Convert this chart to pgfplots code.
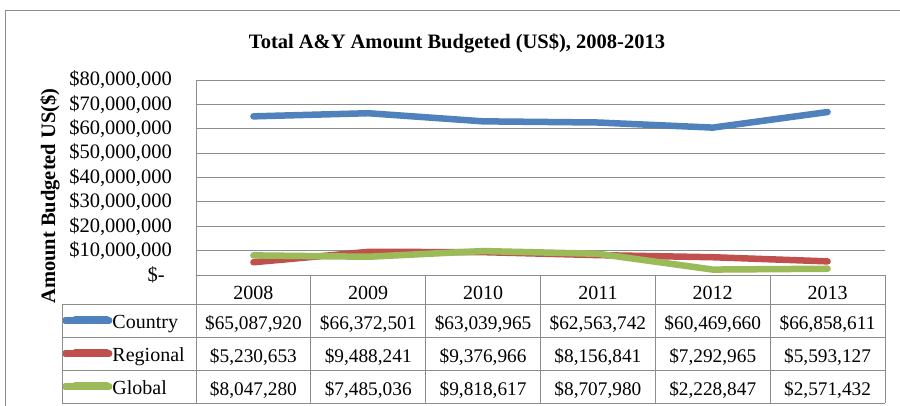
\documentclass[border=0pt]{standalone}
\usepackage{pgfplots}
\pgfplotsset{compat=1.18}
\usepackage{fontspec}
\setmainfont{Liberation Serif}
\definecolor{cblue}{HTML}{4F81BD}
\definecolor{cred}{HTML}{C0504D}
\definecolor{cgreen}{HTML}{9BBB59}
\definecolor{gridgray}{RGB}{140,140,140}
\begin{document}
\begin{tikzpicture}[font=\fontsize{20}{23}\selectfont]
\useasboundingbox (0pt,0pt) rectangle (900pt,-406pt);
\fill[white] (0pt,0pt) rectangle (900pt,-406pt);
\begin{scope}[x=1pt,y=-1pt]
\draw[gridgray, line width=0.8pt] (5,420) -- (5,10) -- (910,10);
\node[anchor=base, font=\fontsize{20.5}{23}\selectfont\bfseries] at (457,49) {Total A\&Y Amount Budgeted (US\$), 2008-2013};
\node[anchor=base, rotate=90, font=\fontsize{20.5}{23}\selectfont\bfseries] at (55,196) {Amount Budgeted US(\$)};
\end{scope}
\begin{axis}[
  at={(196pt,-275pt)}, anchor=south west,
  scale only axis, width=689pt, height=195pt,
  xmin=-0.5, xmax=5.5, ymin=0, ymax=80000000,
  xtick=\empty,
  scaled y ticks=false,
  ytick={0,10000000,20000000,30000000,40000000,50000000,60000000,70000000,80000000},
  yticklabels={{\$-\hspace*{7pt}},{\$10,000,000},{\$20,000,000},{\$30,000,000},{\$40,000,000},{\$50,000,000},{\$60,000,000},{\$70,000,000},{\$80,000,000}},
  ymajorgrids,
  major grid style={draw=gridgray, line width=0.8pt},
  axis lines*=left,
  axis line style={draw=gridgray, line width=0.8pt},
  major tick length=0pt,
  yticklabel style={anchor=east, inner sep=0pt, xshift=-24pt, font=\fontsize{20.5}{23}\selectfont},
  clip=false,
  legend style={at={(-0.1945,-0.1487)}, anchor=north west, draw=none, fill=none,
    inner sep=0pt, outer sep=0pt, row sep=0pt, column sep=0pt,
    font=\fontsize{20}{23}\selectfont,
    nodes={inner sep=0pt, text height=25pt, text depth=8pt}},
  legend cell align=left,
  legend image code/.code={\path (0pt,0pt) rectangle (44pt,0pt);
    \draw[#1, line width=6pt, line cap=round] (10pt,1pt) -- (42pt,1pt);},
]
\addplot[cblue, line width=6.5pt, line cap=round, line join=round] coordinates {
  (0,65087920) (1,66372501) (2,63039965) (3,62563742) (4,60469660) (5,66858611)};
\addlegendentry{Country}
\addplot[cred, line width=6.5pt, line cap=round, line join=round] coordinates {
  (0,5230653) (1,9488241) (2,9376966) (3,8156841) (4,7292965) (5,5593127)};
\addlegendentry{Regional}
\addplot[cgreen, line width=6.5pt, line cap=round, line join=round] coordinates {
  (0,8047280) (1,7485036) (2,9818617) (3,8707980) (4,2228847) (5,2571432)};
\addlegendentry{Global}
\end{axis}
\begin{scope}[x=1pt,y=-1pt]
\draw[gridgray, line width=0.8pt] (196,275) -- (885,275);
\foreach \yy in {304,337,370,403} \draw[gridgray, line width=0.8pt] (62,\yy) -- (885,\yy);
\draw[gridgray, line width=0.8pt] (62,304) -- (62,403);
\foreach \i in {0,...,6} \draw[gridgray, line width=0.8pt] ({196+114.83*\i},275) -- ({196+114.83*\i},403);
\foreach \t [count=\i from 0] in {2008,2009,2010,2011,2012,2013}
  \node[anchor=base, inner sep=0pt] at ({253.4+114.83*\i},299) {\t};
\foreach \t [count=\i from 0] in {{\$65,087,920},{\$66,372,501},{\$63,039,965},{\$62,563,742},{\$60,469,660},{\$66,858,611}}
  \node[anchor=base, inner sep=0pt, font=\fontsize{19.3}{22}\selectfont] at ({253.4+114.83*\i},329) {\t};
\foreach \t [count=\i from 0] in {{\$5,230,653},{\$9,488,241},{\$9,376,966},{\$8,156,841},{\$7,292,965},{\$5,593,127}}
  \node[anchor=base, inner sep=0pt, font=\fontsize{19.3}{22}\selectfont] at ({253.4+114.83*\i},362) {\t};
\foreach \t [count=\i from 0] in {{\$8,047,280},{\$7,485,036},{\$9,818,617},{\$8,707,980},{\$2,228,847},{\$2,571,432}}
  \node[anchor=base, inner sep=0pt, font=\fontsize{19.3}{22}\selectfont] at ({253.4+114.83*\i},395) {\t};
\end{scope}
\end{tikzpicture}
\end{document}
